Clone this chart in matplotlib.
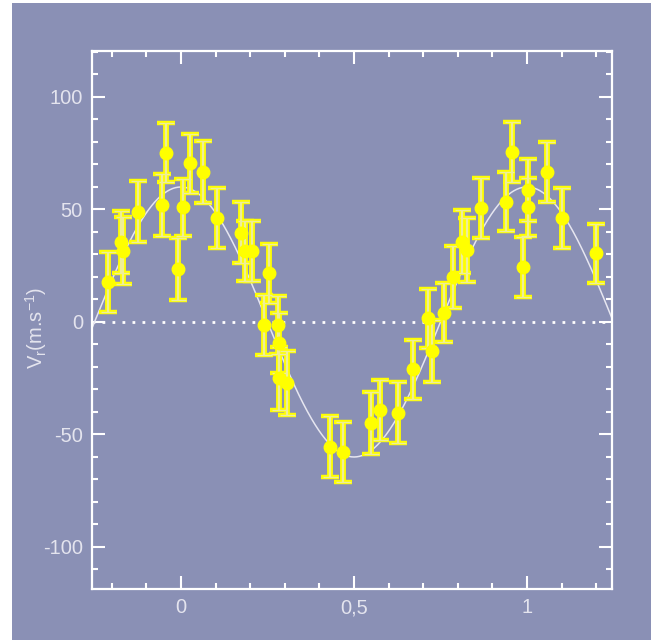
import matplotlib
matplotlib.use("Agg")
import matplotlib.pyplot as plt
from matplotlib.patches import Rectangle
from matplotlib.ticker import MultipleLocator, FixedLocator
import numpy as np

# ---- data ----
phase = [-0.212, -0.173, -0.168, -0.125, -0.056, -0.043, -0.010, 0.007, 0.026, 0.064,
         0.103, 0.173, 0.185, 0.205, 0.253, 0.240, 0.281, 0.283, 0.283, 0.305,
         0.431, 0.469, 0.548, 0.575, 0.626, 0.671, 0.715, 0.726, 0.761, 0.787,
         0.811, 0.826, 0.866, 0.939, 0.956, 0.989, 1.004, 1.004, 1.057, 1.100,
         1.199]
velocity = [17.9, 35.6, 31.6, 49.0, 52.0, 75.2, 23.4, 51.0, 70.5, 66.8,
            46.1, 39.6, 31.6, 31.6, 21.6, -1.3, -1.3, -9.5, -25.1, -27.2,
            -55.4, -57.6, -44.8, -39.1, -40.3, -21.1, 1.6, -12.9, 4.1, 20.1,
            35.7, 32.0, 50.5, 53.5, 75.7, 24.6, 58.7, 51.0, 66.8, 46.1,
            30.5]
error = [13.3, 13.8, 14.9, 13.6, 13.6, 13.1, 13.8, 12.7, 13.1, 13.7,
         13.4, 13.6, 13.3, 13.3, 13.1, 13.3, 13.0, 13.3, 14.2, 14.3,
         13.5, 13.3, 13.9, 13.3, 13.7, 13.1, 13.0, 13.6, 13.1, 13.7,
         14.0, 14.4, 13.3, 13.0, 13.3, 13.3, 13.7, 12.9, 13.3, 13.3,
         13.1]
K_amplitude = 60.0          # semi-amplitude of the fitted orbit (m/s)
x_ticks = [0, 0.5, 1]
x_ticklabels = ["0", "0,5", "1"]
y_ticks = [-100, -50, 0, 50, 100]
y_ticklabels = ["-100", "-50", "0", "50", "100"]
ylabel = r"V$_\mathregular{r}$(m.s$^\mathregular{-1}$)"

# ---- style ----
BG = "#8a90b5"
TXT = "#e4e4ee"
plt.rcParams["font.family"] = ["Liberation Sans", "DejaVu Sans"]

fig = plt.figure(figsize=(6.58, 6.40), dpi=100)
fig.patch.set_facecolor("white")
fig.patches.append(Rectangle((12 / 658, 0), (651 - 12) / 658, 637 / 640,
                             transform=fig.transFigure, facecolor=BG,
                             edgecolor="none", zorder=-10))

ax = fig.add_axes([92 / 658, 51 / 640, 520 / 658, 538 / 640])
ax.set_facecolor(BG)
ax.set_xlim(-0.2572, 1.2457)
ax.set_ylim(-118.67, 120.44)

# model curve
xc = np.linspace(-0.2572, 1.2457, 600)
ax.plot(xc, K_amplitude * np.cos(2 * np.pi * xc), color="#e6e6f0", lw=1.1, zorder=2)

# zero line
ax.axhline(0, color="white", lw=2.0, linestyle=(0, (1, 2.6)), zorder=1.5)

# data with error bars
ax.errorbar(phase, velocity, yerr=error, fmt="none", ecolor="#ffff00",
            elinewidth=4.2, capsize=6.2, capthick=3.2, zorder=3)
ax.errorbar(phase, velocity, yerr=error, fmt="none", ecolor="#eeee9a",
            elinewidth=1.6, capsize=5.4, capthick=1.0, zorder=4)
ax.plot(phase, velocity, "o", color="#ffff00", ms=9, mec="#ffff00", zorder=5)

# axes styling
for s in ax.spines.values():
    s.set_color("white")
    s.set_linewidth(1.6)

ax.xaxis.set_major_locator(FixedLocator(x_ticks))
ax.set_xticklabels(x_ticklabels)
ax.xaxis.set_minor_locator(MultipleLocator(0.1))
ax.yaxis.set_major_locator(FixedLocator(y_ticks))
ax.set_yticklabels(y_ticklabels)
ax.yaxis.set_minor_locator(MultipleLocator(10))

ax.tick_params(which="both", direction="in", top=True, right=True,
               color="white", width=1.5, labelcolor=TXT, labelsize=14.5)
ax.tick_params(which="major", length=9.5, pad=6.5)
ax.tick_params(which="minor", length=4)

ax.set_ylabel(ylabel, color=TXT, fontsize=14.5)
ax.yaxis.set_label_coords(-0.082, 0.485)

fig.savefig("out.png", dpi=100, facecolor=fig.get_facecolor())
